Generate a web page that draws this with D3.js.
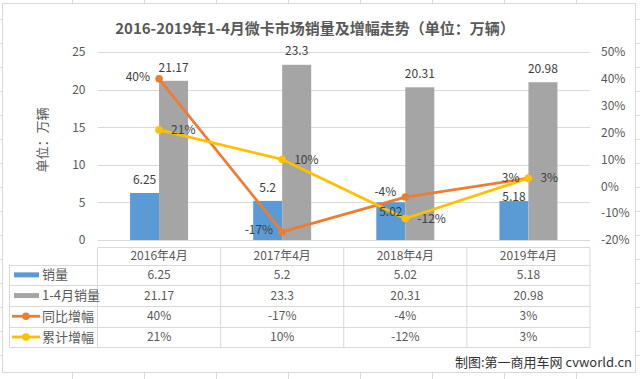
<!DOCTYPE html>
<html><head><meta charset="utf-8">
<script src="https://cdn.jsdelivr.net/npm/d3@7"></script>
<style>html,body{margin:0;padding:0;background:#fff;}svg{display:block;font-family:"Noto Sans CJK SC","Noto Sans",sans-serif;}</style>
</head><body><svg id="c" width="640" height="379"></svg>
<script>
// ---- data ----
const categories = ["2016年4月", "2017年4月", "2018年4月", "2019年4月"];
const sales = [6.25, 5.2, 5.02, 5.18];
const cumSales = [21.17, 23.3, 20.31, 20.98];
const yoyGrowth = [0.40, -0.17, -0.04, 0.03];
const cumGrowth = [0.21, 0.10, -0.12, 0.03];
const leftTicks = [0, 5, 10, 15, 20, 25];
const rightTicks = [-0.2, -0.1, 0, 0.1, 0.2, 0.3, 0.4, 0.5];
const seriesNames = ["销量", "1-4月销量", "同比增幅", "累计增幅"];
const title = "2016-2019年1-4月微卡市场销量及增幅走势（单位：万辆）";
const yTitle = "单位：万辆";
const credit = "制图:第一商用车网 cvworld.cn";

// ---- style ----
const colors = ["#5B9BD5", "#A5A5A5", "#ED7D31", "#FFC000"];
const grid = "#D9D9D9", txt = "#595959", lab = "#404040";
const locale = d3.formatLocale({decimal: ".", thousands: ",", grouping: [3], currency: ["", ""], minus: "-", percent: "%"});
const pct = locale.format(".0%");
// label fine-tuning (vertical shift in px) to mimic the reference's placement
const barLabelShift = [[0, 0, 23, 9], [0, 0, 0, 0]];
const lineLabelShift = [[-2, -2, -5, 0], [0, 0, 0, 0]];

const svg = d3.select("#c");
const W = 640, H = 379;

// excel sheet grid in the background
const bg = svg.append("g");
d3.range(0, 8).forEach(k => bg.append("line").attr("x1", 72.5 + 72 * k).attr("x2", 72.5 + 72 * k).attr("y1", 0).attr("y2", H).attr("stroke", "#DADADA"));
d3.range(0, 16).forEach(k => bg.append("line").attr("x1", 0).attr("x2", W).attr("y1", 19.5 + 24 * k).attr("y2", 19.5 + 24 * k).attr("stroke", "#DADADA"));
svg.append("rect").attr("x", 2.5).attr("y", 3.5).attr("width", 633).attr("height", 369)
  .attr("fill", "#fff").attr("stroke", grid);

// title
svg.append("text").attr("x", 315).attr("y", 34).attr("text-anchor", "middle")
  .attr("font-size", 15).attr("font-weight", 700).attr("fill", txt).text(title);

// scales
const L = 97.5, R = 590, T = 52, B = 240;
const x = d3.scaleBand().domain(categories).range([L, R]).paddingInner(0).paddingOuter(0);
const sub = d3.scaleBand().domain([0, 1]).range([-29, 29]).padding(0);
const yL = d3.scaleLinear().domain([0, 25]).range([B, T]);
const yR = d3.scaleLinear().domain([-0.2, 0.5]).range([B, T]);

// gridlines
svg.append("g").selectAll("line").data(leftTicks).join("line")
  .attr("x1", L).attr("x2", R).attr("y1", d => Math.round(yL(d)) + 0.5).attr("y2", d => Math.round(yL(d)) + 0.5)
  .attr("stroke", grid);

// left axis
const axL = svg.append("g").attr("transform", `translate(${L},0)`)
  .call(d3.axisLeft(yL).tickValues(leftTicks).tickSize(0).tickPadding(12));
axL.select(".domain").remove();
axL.selectAll("text").attr("font-size", 12).attr("fill", txt).attr("font-family", '"Noto Sans CJK SC"');
// right axis
const axR = svg.append("g").attr("transform", `translate(${R},0)`)
  .call(d3.axisRight(yR).tickValues(rightTicks).tickFormat(pct).tickSize(0).tickPadding(11));
axR.select(".domain").remove();
axR.selectAll("text").attr("font-size", 12).attr("fill", txt).attr("font-family", '"Noto Sans CJK SC"');

// y title
svg.append("text").attr("transform", "translate(47,140) rotate(-90)").attr("text-anchor", "middle")
  .attr("font-size", 13).attr("fill", txt).text(yTitle);

// bars
const barSeries = [sales, cumSales];
barSeries.forEach((vals, s) => {
  svg.append("g").selectAll("rect").data(vals).join("rect")
    .attr("x", (d, i) => x(categories[i]) + x.bandwidth() / 2 + sub(s))
    .attr("width", sub.bandwidth())
    .attr("y", d => yL(d)).attr("height", d => B - yL(d))
    .attr("fill", colors[s]);
});

// lines
const lineSeries = [yoyGrowth, cumGrowth];
const cx = i => x(categories[i]) + x.bandwidth() / 2;
lineSeries.forEach((vals, s) => {
  const g = svg.append("g");
  const line = d3.line().x((d, i) => cx(i)).y(d => yR(d));
  g.append("path").datum(vals).attr("d", line).attr("fill", "none")
    .attr("stroke", colors[2 + s]).attr("stroke-width", 2.8).attr("stroke-linejoin", "round");
  g.selectAll("circle").data(vals).join("circle")
    .attr("cx", (d, i) => cx(i)).attr("cy", d => yR(d)).attr("r", 3.8).attr("fill", colors[2 + s]);
});

// bar labels (drawn over lines)
barSeries.forEach((vals, s) => {
  svg.append("g").selectAll("text").data(vals).join("text")
    .attr("x", (d, i) => x(categories[i]) + x.bandwidth() / 2 + sub(s) + sub.bandwidth() / 2)
    .attr("y", (d, i) => yL(d) - 13.5 + barLabelShift[s][i])
    .attr("dy", "0.35em").attr("text-anchor", "middle")
    .attr("font-size", 12).attr("fill", lab).text(d => d);
});
lineSeries.forEach((vals, s) => {
  svg.append("g").selectAll("text").data(vals).join("text")
    .attr("x", (d, i) => s === 0 ? cx(i) - 9 : cx(i) + 12)
    .attr("y", (d, i) => yR(d) + lineLabelShift[s][i])
    .attr("dy", "0.35em").attr("text-anchor", s === 0 ? "end" : "start")
    .attr("font-size", 12).attr("fill", lab).text(d => pct(d));
});

// data table
const hdrTop = 247.5, rowTop = 264.5, rowH = 20.7, legL = 9.5;
const rows = [sales, cumSales, yoyGrowth, cumGrowth];
const rowFmt = [d => d, d => d, pct, pct];
const tg = svg.append("g");
const bottom = rowTop + rowH * 4;
tg.append("line").attr("x1", L).attr("x2", R).attr("y1", hdrTop).attr("y2", hdrTop).attr("stroke", grid);
d3.range(0, 5).forEach(k => tg.append("line").attr("x1", legL).attr("x2", R)
  .attr("y1", Math.round(rowTop + rowH * k) + 0.5).attr("y2", Math.round(rowTop + rowH * k) + 0.5).attr("stroke", grid));
tg.append("line").attr("x1", legL).attr("x2", legL).attr("y1", rowTop).attr("y2", bottom).attr("stroke", grid);
[...categories.map(c => x(c)), R].forEach(v => tg.append("line").attr("x1", v).attr("x2", v)
  .attr("y1", hdrTop).attr("y2", bottom).attr("stroke", grid));
tg.selectAll(".hdr").data(categories).join("text").attr("class", "hdr")
  .attr("x", d => x(d) + x.bandwidth() / 2).attr("y", (hdrTop + rowTop) / 2).attr("dy", "0.35em")
  .attr("text-anchor", "middle").attr("font-size", 12).attr("fill", txt).text(d => d);
rows.forEach((vals, r) => {
  const yc = rowTop + rowH * r + rowH / 2;
  tg.append("g").selectAll("text").data(vals).join("text")
    .attr("x", (d, i) => cx(i)).attr("y", yc).attr("dy", "0.35em")
    .attr("text-anchor", "middle").attr("font-size", 12).attr("fill", txt).text(rowFmt[r]);
  if (r < 2) {
    tg.append("rect").attr("x", 14).attr("y", yc - 2.5).attr("width", 25).attr("height", 5).attr("fill", colors[r]);
  } else {
    tg.append("line").attr("x1", 12).attr("x2", 40).attr("y1", yc).attr("y2", yc)
      .attr("stroke", colors[r]).attr("stroke-width", 2.8);
    tg.append("circle").attr("cx", 26).attr("cy", yc).attr("r", 3.8).attr("fill", colors[r]);
  }
  tg.append("text").attr("x", 42).attr("y", yc).attr("dy", "0.35em").attr("font-size", 13)
    .attr("fill", txt).text(seriesNames[r]);
});

// credit
svg.append("text").attr("x", 632).attr("y", 362).attr("dy", "0.35em").attr("text-anchor", "end")
  .attr("font-size", 13).attr("fill", "#333").text(credit);
</script></body></html>
